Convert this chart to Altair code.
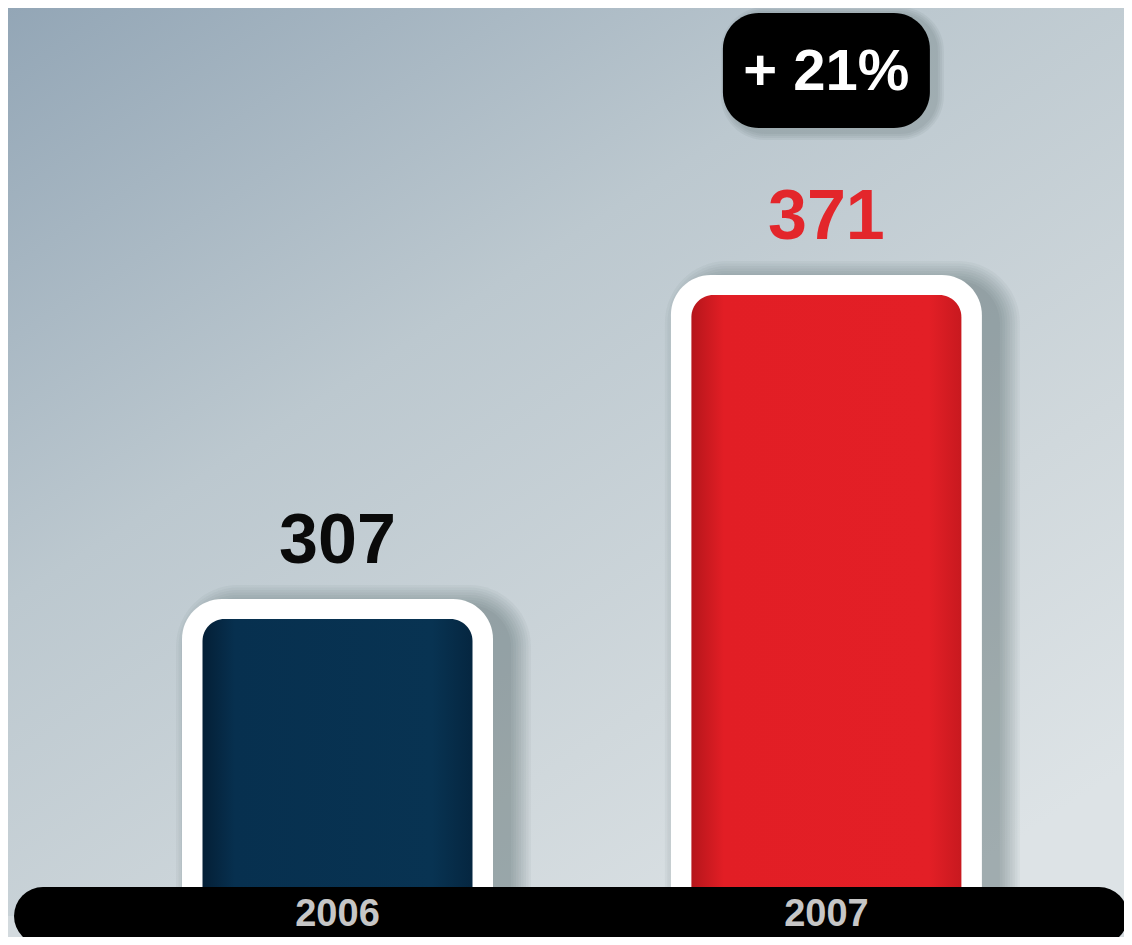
import altair as alt
import pandas as pd

# ---- data ----
years = ["2006", "2007"]
values = [307, 371]

change_pct = round((values[1] / values[0] - 1) * 100)
change_label = f"+ {change_pct}%"

df = pd.DataFrame({"year": years, "value": values})

# ---- styling ----
Y_MIN, Y_MAX = 248.3, 427.7
W, H = 1116, 908
X_RANGE = [35, 1091]
FONT = "Liberation Sans"
label_colors = ["#0a0a0a", "#e3262b"]
bar_gradients = [
    alt.LinearGradient(gradient="linear", x1=0, x2=1, y1=0, y2=0, stops=[
        alt.GradientStop(color="#041f36", offset=0),
        alt.GradientStop(color="#07304f", offset=0.12),
        alt.GradientStop(color="#083352", offset=0.85),
        alt.GradientStop(color="#052640", offset=1)]),
    alt.LinearGradient(gradient="linear", x1=0, x2=1, y1=0, y2=0, stops=[
        alt.GradientStop(color="#b5161b", offset=0),
        alt.GradientStop(color="#e21e25", offset=0.12),
        alt.GradientStop(color="#e31f26", offset=0.88),
        alt.GradientStop(color="#c8191f", offset=1)]),
]
bg = alt.LinearGradient(gradient="linear", x1=0, y1=0, x2=0.8, y2=1, stops=[
    alt.GradientStop(color="#93a6b6", offset=0),
    alt.GradientStop(color="#bcc8cf", offset=0.4),
    alt.GradientStop(color="#d0d8dc", offset=0.75),
    alt.GradientStop(color="#dde3e6", offset=1)])

x_enc = alt.X(
    "year:N", sort=years,
    scale=alt.Scale(range=X_RANGE, paddingInner=0.4, paddingOuter=0.28, align=0.54),
    axis=None,
)
y_enc = alt.Y("value:Q", scale=alt.Scale(domain=[Y_MIN, Y_MAX], zero=False, nice=False), axis=None)
y2_base = alt.datum(Y_MIN)

base = alt.Chart(df)
one = alt.Chart(pd.DataFrame({"k": [0]}))

layers = []
# background panel
layers.append(one.mark_rect(color=bg)
              .encode(x=alt.value(0), x2=alt.value(W), y=alt.value(0), y2=alt.value(H)))
# soft shadows (stacked translucent layers imitate a blur)
for k in range(9):
    grow = 4 + k * 5
    layers.append(base.mark_bar(size=311 + grow, color="#39434c", opacity=0.045, xOffset=16,
                                yOffset=-20 - grow / 2 + 8,
                                cornerRadiusTopLeft=40 + grow / 2, cornerRadiusTopRight=40 + grow / 2)
                  .encode(x=x_enc, y=y_enc, y2=y2_base))
# white frames
layers.append(base.mark_bar(size=311, color="white", yOffset=-20,
                            cornerRadiusTopLeft=40, cornerRadiusTopRight=40)
              .encode(x=x_enc, y=y_enc, y2=y2_base))
# coloured bars
for yr, grad in zip(years, bar_gradients):
    layers.append(base.transform_filter(alt.datum.year == yr)
                  .mark_bar(size=270, color=grad, cornerRadiusTopLeft=22, cornerRadiusTopRight=22)
                  .encode(x=x_enc, y=y_enc, y2=y2_base))
# value labels
layers.append(base.mark_text(dy=-56, fontSize=70, fontWeight="bold", font=FONT,
                             baseline="alphabetic", align="center")
              .encode(x=x_enc, y=y_enc, text=alt.Text("value:Q"),
                      color=alt.Color("year:N", scale=alt.Scale(domain=years, range=label_colors),
                                      legend=None)))
# change pill
last = base.transform_filter(alt.datum.year == years[-1])
for k in range(4):
    g = 4 + k * 4
    layers.append(last.mark_bar(size=207 + g, color="#39434c", opacity=0.06, xOffset=6,
                                yOffset=-167 + 4 + g / 2, y2Offset=-282 + 2 - g / 2,
                                cornerRadius=36 + g / 2)
                  .encode(x=x_enc, y=y_enc, y2=alt.Y2("value:Q")))
layers.append(last.mark_bar(size=207, color="black", yOffset=-167, y2Offset=-282, cornerRadius=36)
              .encode(x=x_enc, y=y_enc, y2=alt.Y2("value:Q")))
layers.append(last.mark_text(text=change_label, dy=-205, fontSize=58, fontWeight="bold", font=FONT,
                             color="white", baseline="alphabetic", align="center")
              .encode(x=x_enc, y=y_enc))
# black base band (category axis strip)
layers.append(one.mark_rule(color="black", strokeWidth=58, strokeCap="round")
              .encode(x=alt.value(X_RANGE[0]), x2=alt.value(X_RANGE[1]), y=y2_base))
# year labels on the black band
layers.append(base.mark_text(dy=10, fontSize=38, fontWeight="bold", font=FONT, color="#c6c6c6",
                             baseline="alphabetic", align="center")
              .encode(x=x_enc, y=y2_base, text=alt.Text("year:N")))

chart = (alt.layer(*layers)
         .properties(width=W, height=H,
                     padding={"left": 0, "top": 0, "right": 0, "bottom": 21},
                     autosize=alt.AutoSizeParams(type="none"),
                     background="#d3dade")
         .configure_view(strokeWidth=0))

chart.save("out.html", embed_options={"renderer": "svg", "actions": False})
